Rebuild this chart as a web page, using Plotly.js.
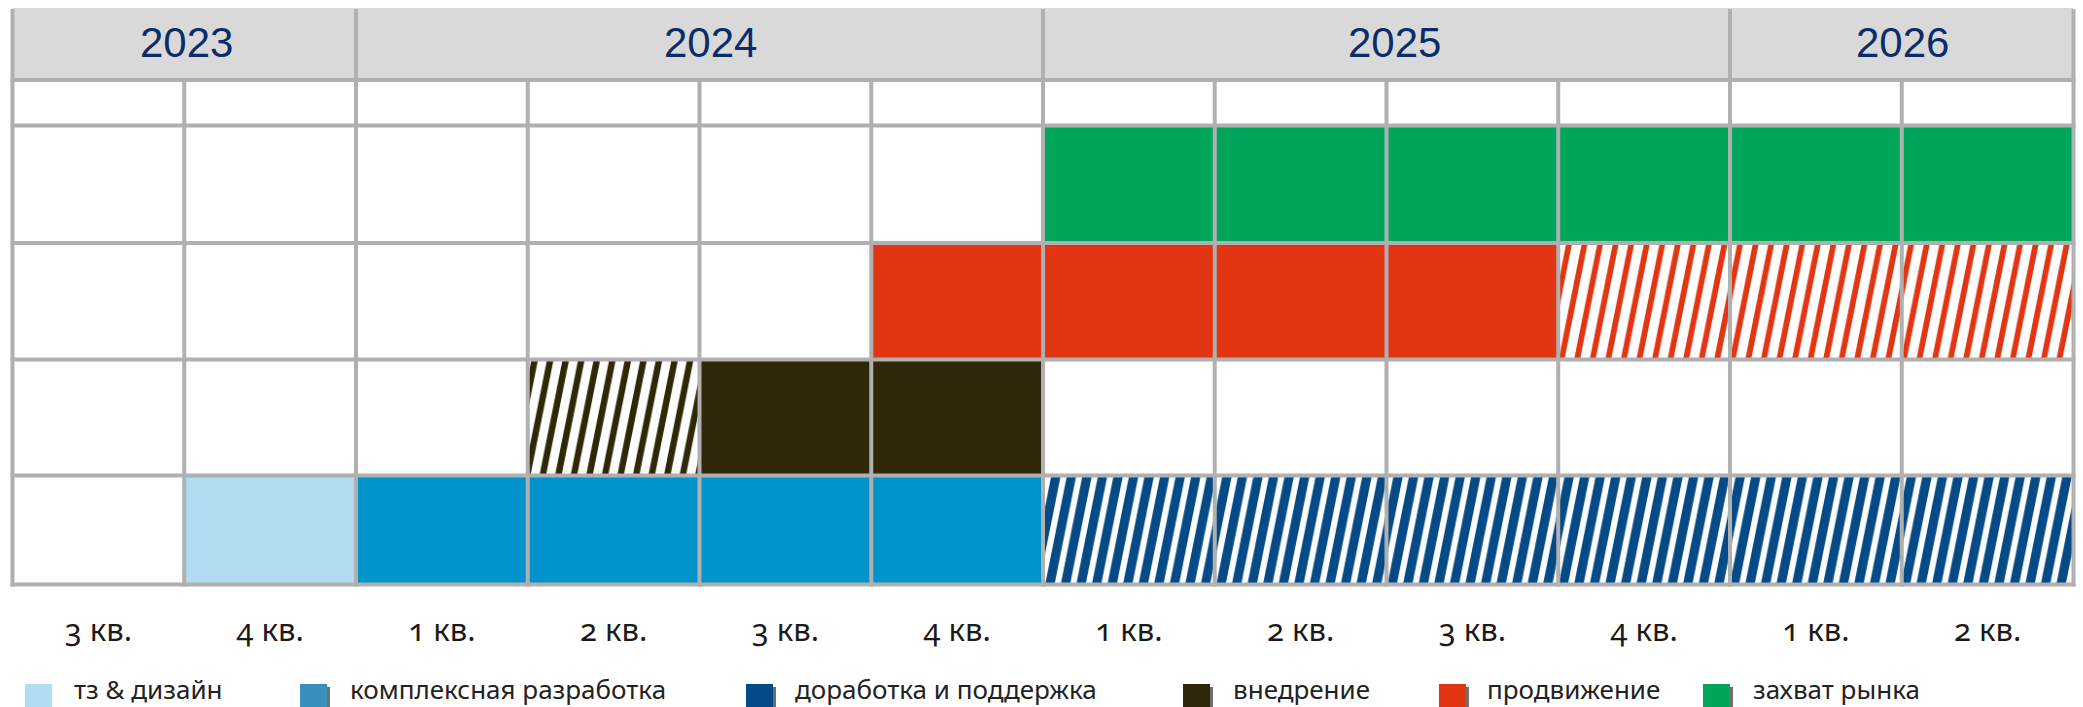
<!DOCTYPE html>
<html><head><meta charset="utf-8">
<script src="https://cdn.plot.ly/plotly-3.0.1.min.js"></script>
<style>
html,body{margin:0;padding:0;background:#fff;}
#chart{width:2083px;height:707px;}
.xtick text{font-variant-numeric: oldstyle-nums !important; font-feature-settings:"onum" 1 !important;}
</style></head><body><div id="chart"></div>
<script>
// ---------- DATA ----------
const quarters = ['3 кв.','4 кв.','1 кв.','2 кв.','3 кв.','4 кв.','1 кв.','2 кв.','3 кв.','4 кв.','1 кв.','2 кв.'];
const years = ['2023','2024','2025','2026'];
const quartersPerYear = [2,4,4,2];
const stages = ['тз & дизайн','комплексная разработка','доработка и поддержка','внедрение','продвижение','захват рынка'];
const stageRow = [3,3,3,2,1,0];            // 0 = top row of the grid
const doneQuarters = [[1],[2,3,4,5],[],[4,5],[5,6,7,8],[6,7,8,9,10,11]];
const plannedQuarters = [[],[],[6,7,8,9,10,11],[3],[9,10,11],[]];

// ---------- STYLE ----------
const stageColors = ['#b0dcf2','#0093cc','#044a87','#2f2808','#e23512','#00a65a'];
const legendColors = ['#b0dcf2','#378fbb','#044a87','#2f2808','#e23512','#00a65a'];
const hatchSolidity = [0.5,0.5,0.6,0.42,0.38,0.5];
const W = 2083, H = 707;
const gridL = 12.5, gridR = 2073.5, colW = (gridR - gridL) / 12;
const headerTop = 8, headerBot = 80;
const rowEdges = [125.5, 243, 359.5, 475.5, 584.5];
const gridColor = '#b0b0b0', lineW = 4;
const yearShift = [2, 11, 8, 1];
const legendSquareX = [25, 300, 746, 1183, 1439, 1703];
const legendTextX = [72, 348, 793, 1231, 1485, 1751];
const legendTop = 684, legendSize = 27, legendTextY = 689;

const rowCenter = r => (rowEdges[r] + rowEdges[r + 1]) / 2;
const rowHeight = r => rowEdges[r + 1] - rowEdges[r];

// ---------- TRACES ----------
const data = [];
stages.forEach((name, s) => {
  const r = stageRow[s];
  if (doneQuarters[s].length) {
    data.push({
      type: 'bar', orientation: 'h', name: name, showlegend: false,
      y: doneQuarters[s].map(() => rowCenter(r)),
      base: doneQuarters[s], x: doneQuarters[s].map(() => 1),
      width: doneQuarters[s].map(() => rowHeight(r)),
      marker: {color: stageColors[s], line: {width: 0}},
      hoverinfo: 'skip'
    });
  }
  if (plannedQuarters[s].length) {
    data.push({
      type: 'bar', orientation: 'h', name: name + ' (план)', showlegend: false,
      y: plannedQuarters[s].map(() => rowCenter(r)),
      base: plannedQuarters[s], x: plannedQuarters[s].map(() => 1),
      width: plannedQuarters[s].map(() => rowHeight(r)),
      marker: {color: '#ffffff', line: {width: 0},
        pattern: {shape: '/', fgcolor: stageColors[s], bgcolor: '#ffffff', size: 55,
                  solidity: hatchSolidity[s], fillmode: 'replace'}},
      hoverinfo: 'skip'
    });
  }
});

// ---------- SHAPES (grid, header) ----------
const shapes = [];
const ext = (lineW / 2) / colW;
shapes.push({type: 'rect', xref: 'x', yref: 'y', x0: 0, x1: 12, y0: headerTop, y1: headerBot,
  fillcolor: '#d9d9d9', line: {width: 0}, layer: 'below'});
let cum = 0;
const yearBounds = [0];
quartersPerYear.forEach(n => { cum += n; yearBounds.push(cum); });
yearBounds.forEach(b => shapes.push({type: 'line', xref: 'x', yref: 'y', x0: b, x1: b,
  y0: headerTop + 1, y1: headerBot, line: {color: gridColor, width: lineW}, layer: 'above'}));
for (let i = 0; i <= quarters.length; i++) {
  shapes.push({type: 'line', xref: 'x', yref: 'y', x0: i, x1: i, y0: headerBot,
    y1: rowEdges[rowEdges.length - 1] + lineW / 2, line: {color: gridColor, width: lineW}, layer: 'above'});
}
[headerBot].concat(rowEdges).forEach(yv => shapes.push({type: 'line', xref: 'x', yref: 'y',
  x0: -ext, x1: quarters.length + ext, y0: yv, y1: yv, line: {color: gridColor, width: lineW}, layer: 'above'}));

// legend squares
stages.forEach((name, s) => {
  if (s > 0) {
    shapes.push({type: 'rect', xref: 'paper', yref: 'paper',
      x0: (legendSquareX[s] + 3) / W, x1: (legendSquareX[s] + legendSize + 3) / W,
      y0: 1 - (legendTop + legendSize + 3) / H, y1: 1 - (legendTop + 3) / H,
      fillcolor: '#6f6f6f', line: {width: 0}});
  }
  shapes.push({type: 'rect', xref: 'paper', yref: 'paper',
    x0: legendSquareX[s] / W, x1: (legendSquareX[s] + legendSize) / W,
    y0: 1 - (legendTop + legendSize) / H, y1: 1 - legendTop / H,
    fillcolor: legendColors[s], line: {width: 0}});
});

// ---------- ANNOTATIONS ----------
const annotations = [];
years.forEach((yr, i) => annotations.push({xref: 'x', yref: 'y',
  x: (yearBounds[i] + yearBounds[i + 1]) / 2, y: 42.5, xshift: yearShift[i],
  text: yr, showarrow: false, xanchor: 'center', yanchor: 'middle',
  font: {family: 'Liberation Sans, Arial, sans-serif', size: 42, color: '#0b2c6a'}}));
stages.forEach((name, s) => annotations.push({xref: 'paper', yref: 'paper',
  x: legendTextX[s] / W, y: 1 - legendTextY / H, text: name, showarrow: false,
  xanchor: 'left', yanchor: 'middle',
  font: {family: 'Noto Sans, Open Sans, sans-serif', size: 26, color: '#222222'}}));

const layout = {
  width: W, height: H, margin: {l: 0, r: 0, t: 0, b: 0},
  paper_bgcolor: '#ffffff', plot_bgcolor: '#ffffff',
  barmode: 'overlay', bargap: 0, showlegend: false,
  xaxis: {range: [(0 - gridL) / colW, (W - gridL) / colW], anchor: 'free', position: 0.1386,
    tickmode: 'array', tickvals: quarters.map((_, i) => i + 0.5), ticktext: quarters,
    showgrid: false, zeroline: false, showline: false, ticks: '',
    tickfont: {family: 'Noto Sans, Open Sans, sans-serif', size: 31, color: '#1a1a1a'}, fixedrange: true},
  yaxis: {range: [H, 0], visible: false, showgrid: false, zeroline: false, fixedrange: true},
  shapes: shapes, annotations: annotations
};

Plotly.newPlot('chart', data, layout, {displayModeBar: false, staticPlot: true}).then(gd => {
  gd.querySelectorAll('pattern').forEach(p => p.setAttribute('patternTransform', 'scale(0.2,1)'));
});
</script></body></html>
